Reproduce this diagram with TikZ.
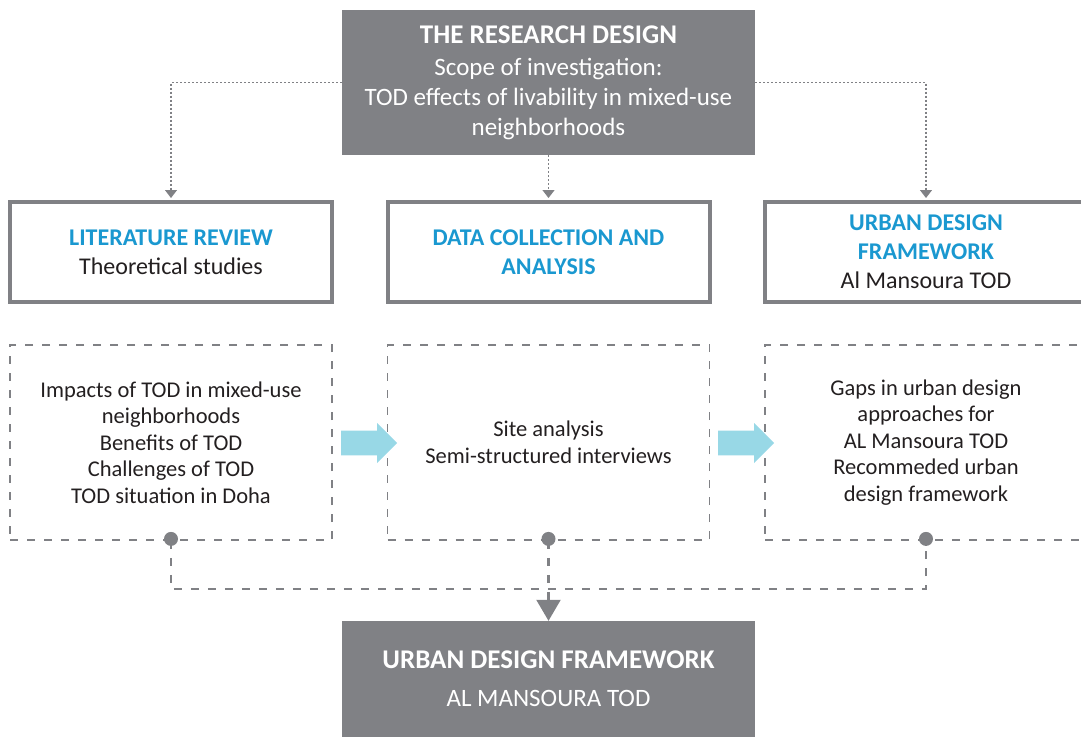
\documentclass[tikz,border=0pt]{standalone}
\usepackage{fontspec}
\setmainfont{Carlito}
\usetikzlibrary{arrows.meta,shapes.arrows}
\definecolor{boxgray}{HTML}{808185}
\definecolor{headblue}{HTML}{1A98D0}
\definecolor{flowcyan}{HTML}{98D8E6}
\definecolor{bodytext}{HTML}{231F20}
\newcommand{\bigbold}[1]{{\fontsize{27}{30}\selectfont\bfseries #1}}
\begin{document}
\begin{tikzpicture}[x=1pt,y=-1pt,
  darkbox/.style={fill=boxgray,text=white,minimum width=413pt,inner sep=0pt,align=center},
  framebox/.style={draw=boxgray,line width=4pt,minimum width=322pt,minimum height=100pt,
    inner sep=0pt,align=center,text=bodytext,font=\fontsize{24}{29}\selectfont},
  dashbox/.style={draw=boxgray,line width=1.8pt,dash pattern=on 8pt off 9pt,minimum width=322pt,
    minimum height=195pt,inner sep=0pt,align=center,text=bodytext,font=\fontsize{22.5}{26.5}\selectfont},
  flow/.style={single arrow,fill=flowcyan,minimum height=56pt,minimum width=40pt,inner sep=11.5pt,
    single arrow tip angle=90,single arrow head indent=0pt},
  dotline/.style={draw=boxgray,line width=1.2pt,dash pattern=on 2pt off 2pt,
    -{Triangle[width=12pt,length=8pt]},shorten >=2pt},
  dashline/.style={draw=boxgray,line width=2.2pt,dash pattern=on 8pt off 9pt}
]
\useasboundingbox (0,0) rectangle (1081,737);
\clip (0,0) rectangle (1081,737);

% top and bottom boxes
\node[darkbox,minimum height=145pt,font=\fontsize{25}{30}\selectfont] (top) at (548.5,82.5)
  {\bigbold{THE RESEARCH DESIGN}\\[2pt] Scope of investigation:\\ TOD effects of livability in mixed-use\\ neighborhoods};
\node[darkbox,minimum height=116pt,font=\fontsize{25}{30}\selectfont] (final) at (548.5,679)
  {\bigbold{URBAN DESIGN FRAMEWORK}\\[8pt] AL MANSOURA TOD};

% three headings
\node[framebox] (lit) at (171,252) {\textbf{\color{headblue}LITERATURE REVIEW}\\ Theoretical studies};
\node[framebox] (data) at (548.5,252) {\textbf{\color{headblue}DATA COLLECTION AND}\\ \textbf{\color{headblue}ANALYSIS}};
\node[framebox] (urban) at (926,252) {\textbf{\color{headblue}URBAN DESIGN}\\ \textbf{\color{headblue}FRAMEWORK}\\ Al Mansoura TOD};

% content boxes
\node[dashbox] (lit2) at (171,442.5) {Impacts of TOD in mixed-use\\ neighborhoods\\ Benefits of TOD\\ Challenges of TOD\\ TOD situation in Doha};
\node[dashbox] (data2) at (548.5,442.5) {Site analysis\\ Semi-structured interviews};
\node[dashbox] (urban2) at (926,442.5) {Gaps in urban design\\ approaches for\\ AL Mansoura TOD\\ Recommeded urban\\ design framework};

\node[flow] (f1) at (363,443) {};
\node[flow] (f2) at (740,443) {};

% dotted links from the top box
\draw[dotline] (top.west) -| (lit.north);
\draw[dotline] (top.south) -- (data.north);
\draw[dotline] (top.east) -| (urban.north);

% joining lines to the final box
\coordinate (join) at (548.5,589);
\draw[dashline] (lit2.south) |- (join) -| (urban2.south);
\draw[dashline,-{Triangle[width=24pt,length=21pt]}] (data2.south) -- (final.north);
\foreach \b in {lit2,data2,urban2}
  \fill[boxgray] (\b.south) ++(0,-2) circle (7pt);
\end{tikzpicture}
\end{document}
